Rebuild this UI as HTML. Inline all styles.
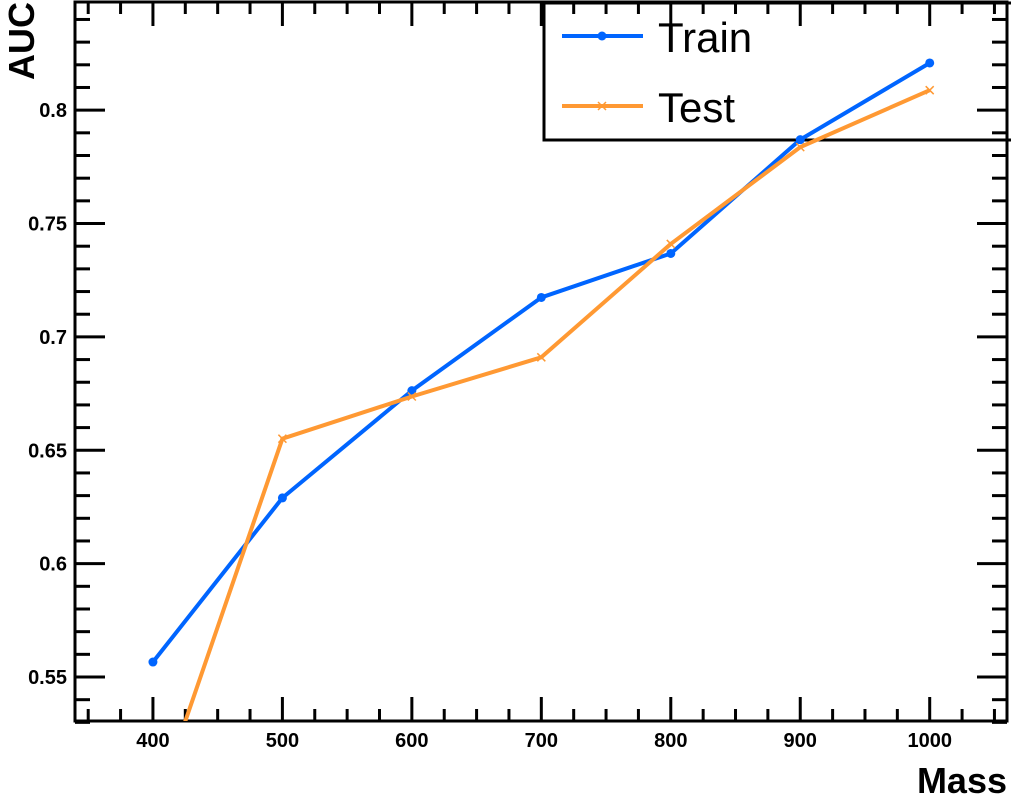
<!DOCTYPE html>
<html><head><meta charset="utf-8"><style>
body{margin:0;background:#fff}
svg{display:block;font-family:"Liberation Sans",Arial,sans-serif}
</style></head><body>
<svg id="c" width="1011" height="802" viewBox="0 0 1011 802">
<g id="g"></g>
</svg>
<script>
const masses=[400,500,600,700,800,900,1000];
const trainAUC=[0.5566,0.629,0.6763,0.7174,0.7368,0.787,0.8208];
const testAUC=[0.489,0.6551,0.6737,0.691,0.741,0.7837,0.8088];
const xTicks=[400,500,600,700,800,900,1000];
const yTicks=[0.55,0.6,0.65,0.7,0.75,0.8];
const yTickLabels=["0.55","0.6","0.65","0.7","0.75","0.8"];

const L=75,R=1007,T=2,B=721;
const X0=339.8,X1=1059.7,Y0=0.5306,Y1=0.8477;
const sx=v=>L+(v-X0)/(X1-X0)*(R-L);
const sy=v=>B-(v-Y0)/(Y1-Y0)*(B-T);
const NS='http://www.w3.org/2000/svg';
const g=document.getElementById('g');
function mk(t,a,p){const e=document.createElementNS(NS,t);for(const k in a)e.setAttribute(k,a[k]);(p||g).appendChild(e);return e;}

const clip=mk('clipPath',{id:'pc'});mk('rect',{x:L,y:T,width:R-L,height:B-T},clip);

// legend (drawn first, transparent)
const lg=mk('g',{});

mk('rect',{x:544,y:3,width:470,height:137,fill:'none',stroke:'#000','stroke-width':3},lg);
mk('line',{x1:562,y1:36,x2:643,y2:36,stroke:'#0065ff','stroke-width':4},lg);
mk('circle',{cx:602,cy:36,r:4.5,fill:'#0065ff'},lg);
mk('line',{x1:562,y1:106,x2:643,y2:106,stroke:'#ff9933','stroke-width':4},lg);
mk('path',{d:'M598,102L606,110M598,110L606,102',stroke:'#ff9933','stroke-width':1.5},lg);
const t1=mk('text',{x:658,y:52,'font-size':42},lg);t1.textContent='Train';

const t2=mk('text',{x:658,y:122,'font-size':42},lg);t2.textContent='Test';


// ticks
const axes=mk('g',{stroke:'#000','stroke-width':3});


for(let v=350;v<=1050;v+=25){const x=sx(v);const maj=v%100===0;const len=maj?24:12;
 mk('line',{x1:x,y1:B,x2:x,y2:B-len},axes);mk('line',{x1:x,y1:T,x2:x,y2:T+len},axes);}
for(let i=53;i<=84;i++){const v=i/100;const y=sy(v);const maj=i%5===0;const len=maj?30:15;
 mk('line',{x1:L,y1:y,x2:L+len,y2:y},axes);mk('line',{x1:R,y1:y,x2:R-len,y2:y},axes);}
mk('rect',{x:L,y:T,width:R-L,height:B-T,fill:'none'},axes);

xTicks.forEach(v=>{const t=mk('text',{x:sx(v),y:747,'text-anchor':'middle','font-size':20,'font-weight':'bold'});t.textContent=v;
 });
yTicks.forEach((v,i)=>{const t=mk('text',{x:67,y:sy(v)+7,'text-anchor':'end','font-size':20,'font-weight':'bold'});t.textContent=yTickLabels[i];
 });

const xt=mk('text',{x:1007,y:793,'text-anchor':'end','font-size':36,'font-weight':'bold'});xt.textContent='Mass';

const yt=mk('text',{x:0,y:0,transform:'translate(34,2) rotate(-90)','text-anchor':'end','font-size':36,'font-weight':'bold'});yt.textContent='AUC';


function series(vals,col,name,marker){
 const gr=mk('g',{'clip-path':'url(#pc)'});
 
 mk('polyline',{points:masses.map((m,i)=>sx(m)+','+sy(vals[i])).join(' '),fill:'none',stroke:col,'stroke-width':4,'stroke-linejoin':'round'},gr);
 masses.forEach((m,i)=>{const x=sx(m),y=sy(vals[i]);
  if(marker==='dot'){const c=mk('circle',{cx:x,cy:y,r:4.5,fill:col},gr);}
  else{const p=mk('path',{d:`M${x-4},${y-4}L${x+4},${y+4}M${x-4},${y+4}L${x+4},${y-4}`,stroke:col,'stroke-width':1.5},gr);}
 });
}
series(trainAUC,'#0065ff','train-series','dot');
series(testAUC,'#ff9933','test-series','x');
</script>
</body></html>
